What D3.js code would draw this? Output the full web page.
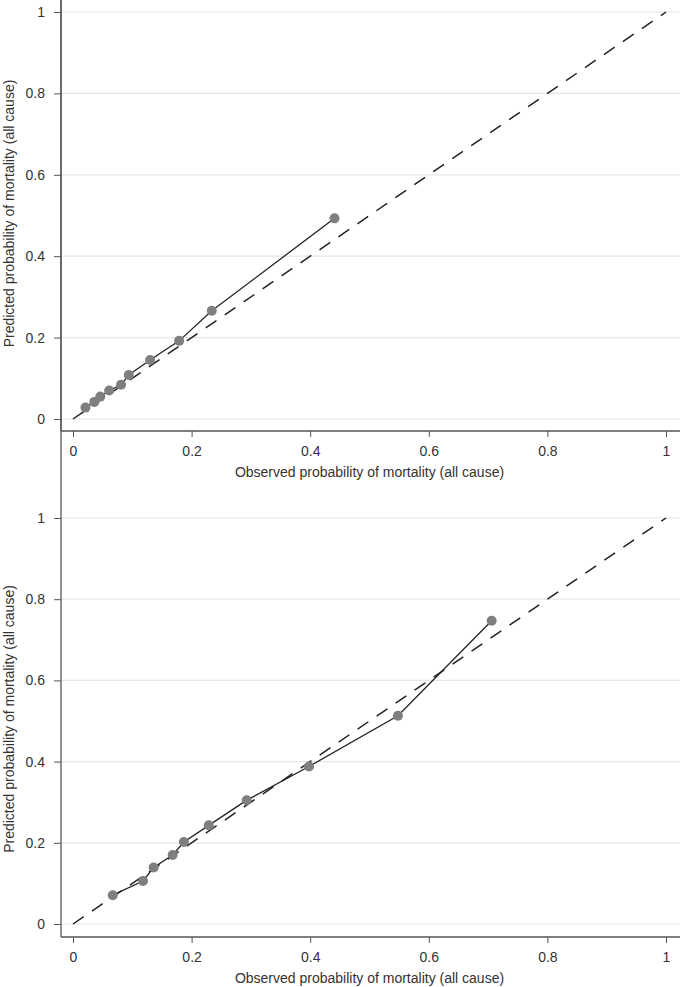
<!DOCTYPE html>
<html><head><meta charset="utf-8">
<script src="https://cdn.jsdelivr.net/npm/d3@7"></script>
<style>body{margin:0;background:#fff;} svg{display:block;font-family:"Liberation Sans",Arial,sans-serif;}</style>
</head><body>
<svg id="c" width="680" height="987"></svg>
<script>
const ticks = [0, 0.2, 0.4, 0.6, 0.8, 1];
const tickLabels = ["0", "0.2", "0.4", "0.6", "0.8", "1"];
const xTitle = "Observed probability of mortality (all cause)";
const yTitle = "Predicted probability of mortality (all cause)";

const topObserved = [0.021, 0.036, 0.046, 0.061, 0.081, 0.094, 0.130, 0.179, 0.234, 0.441];
const topPredicted = [0.028, 0.042, 0.055, 0.070, 0.084, 0.108, 0.145, 0.192, 0.266, 0.493];

const botObserved = [0.067, 0.118, 0.136, 0.168, 0.187, 0.229, 0.293, 0.398, 0.548, 0.706];
const botPredicted = [0.071, 0.106, 0.139, 0.170, 0.202, 0.243, 0.305, 0.388, 0.513, 0.747];

const svg = d3.select("#c");

function panel(obs, pred, yTop, yBottom, axisY) {
  const x = d3.scaleLinear().domain([0, 1]).range([73, 666]);
  const y = d3.scaleLinear().domain([0, 1]).range([yBottom, yTop]);
  const g = svg.append("g");
  g.selectAll("line.grid").data(ticks).join("line")
    .attr("x1", 62).attr("x2", 680)
    .attr("y1", d => y(d)).attr("y2", d => y(d))
    .attr("stroke", "#e6e6e6").attr("stroke-width", 1.2);
  const ya = g.append("g").attr("transform", "translate(61,0)")
    .call(d3.axisLeft(y).tickValues(ticks).tickFormat((d, i) => tickLabels[i]).tickSize(7).tickPadding(9));
  ya.select(".domain").attr("d", `M0,0V${axisY}`).attr("stroke", "#555").attr("stroke-width", 1.3);
  const xa = g.append("g").attr("transform", `translate(0,${axisY})`)
    .call(d3.axisBottom(x).tickValues(ticks).tickFormat((d, i) => tickLabels[i]).tickSize(6).tickPadding(9));
  xa.select(".domain").attr("d", "M61,0H680").attr("stroke", "#555").attr("stroke-width", 1.3);
  [ya, xa].forEach(a => {
    a.selectAll(".tick line").attr("stroke", "#555");
    a.selectAll(".tick text").attr("fill", "#333").style("font-size", "14px");
  });
  g.append("text").attr("x", 369.5).attr("y", axisY + 46)
    .attr("text-anchor", "middle").attr("fill", "#333").style("font-size", "14px").text(xTitle);
  g.append("text").attr("transform", `translate(14,${(yTop + yBottom) / 2 - 2}) rotate(-90)`)
    .attr("text-anchor", "middle").attr("fill", "#333").style("font-size", "14px").text(yTitle);
  g.append("line").attr("x1", x(0)).attr("y1", y(0)).attr("x2", x(1)).attr("y2", y(1))
    .attr("stroke", "#222").attr("stroke-width", 1.5).attr("stroke-dasharray", "13,10");
  const pts = obs.map((o, i) => [o, pred[i]]);
  g.append("path").datum(pts)
    .attr("d", d3.line().x(d => x(d[0])).y(d => y(d[1])))
    .attr("fill", "none").attr("stroke", "#222").attr("stroke-width", 1.3);
  g.selectAll("circle").data(pts).join("circle")
    .attr("cx", d => x(d[0])).attr("cy", d => y(d[1])).attr("r", 5)
    .attr("fill", "#7f7f7f");
}

panel(topObserved, topPredicted, 12, 419, 431);
panel(botObserved, botPredicted, 518, 924, 937);
</script>
</body></html>
